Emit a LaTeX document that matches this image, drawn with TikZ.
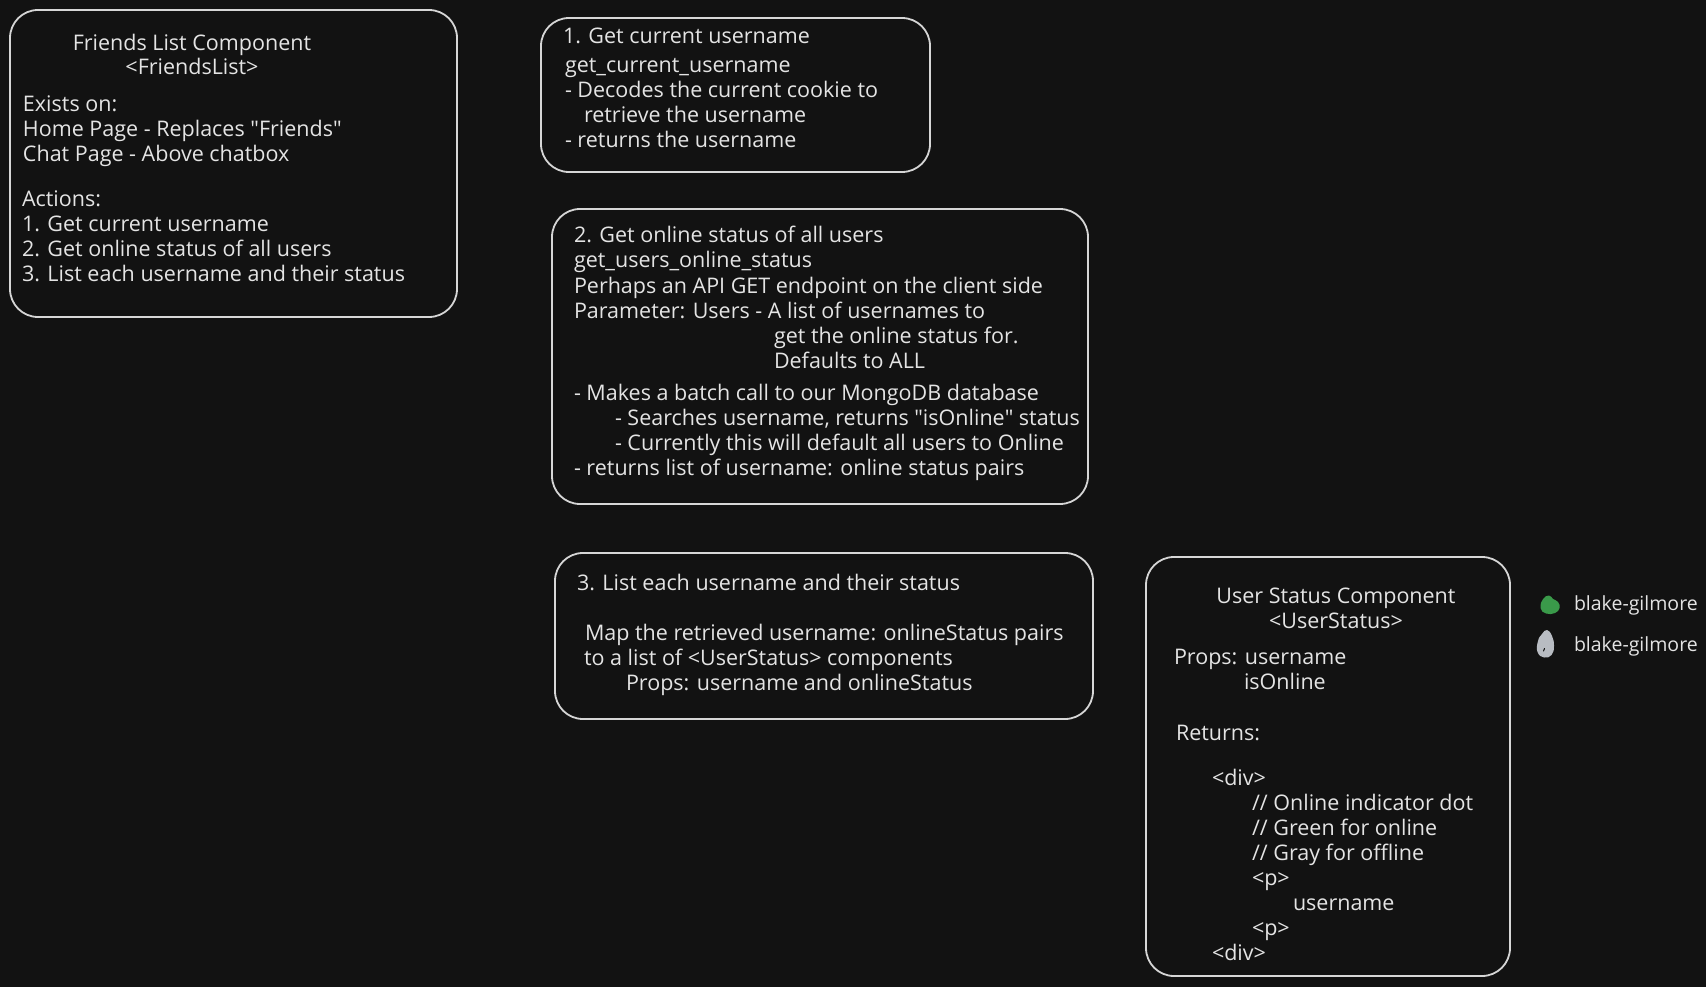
\documentclass[tikz,border=0pt]{standalone}
\usepackage{fontspec}
\setmainfont{Open Sans}
\definecolor{canvas}{HTML}{121212}
\definecolor{ink}{HTML}{E4E4E4}
\definecolor{edge}{HTML}{D6D6D6}
\definecolor{onlinegreen}{HTML}{3A9A4A}
\definecolor{offlinegray}{HTML}{B8BCC2}
\newcommand{\handfont}{\fontsize{21.5}{25}\selectfont}
\newcommand{\legendfont}{\fontsize{19.5}{25}\selectfont}
\newcommand{\sq}{\textquotedbl}
\tikzset{
  card/.style={draw=edge, line width=1.8pt, rounded corners=28pt},
  txt/.style={text=ink, font=\handfont, inner sep=0pt, outer sep=0pt, anchor=base west},
  ctxt/.style={txt, anchor=base},
  legendtxt/.style={txt, font=\legendfont},
}
\begin{document}
\begin{tikzpicture}[x=1pt, y=-1pt]
  \fill[canvas] (0,0) rectangle (1706,987);
  \useasboundingbox (0,0) rectangle (1706,987);

  % outlines of the five cards
  \draw[card] (10,10) rectangle (457,317);
  \draw[card] (541,18) rectangle (930,172);
  \draw[card] (552,209) rectangle (1088,504);
  \draw[card] (555,553) rectangle (1093,719);
  \draw[card] (1146,557) rectangle (1510,976);

  % Friends list component
  \node[ctxt] (flTitle) at (192,51) {Friends List Component};
  \node[ctxt] (flTag) at (192,75) {<FriendsList>};
  \node[txt] (flExists) at (23,112) {Exists on:};
  \node[txt] (flHome) at (23,137) {Home Page - Replaces \sq Friends\sq};
  \node[txt] (flChat) at (23,162) {Chat Page - Above chatbox};
  \node[txt] (flActions) at (22,207) {Actions:};
  \node[txt] (flOne) at (22,232) {1. Get current username};
  \node[txt] (flTwo) at (22,257) {2. Get online status of all users};
  \node[txt] (flThree) at (22,282) {3. List each username and their status};

  % step 1
  \node[txt] (s1Head) at (563,44) {1. Get current username};
  \node[txt] (s1Fn) at (565,73) {get\_current\_username};
  \node[txt] (s1Dec) at (565,98) {- Decodes the current cookie to};
  \node[txt] (s1Ret) at (584,123) {retrieve the username};
  \node[txt] (s1Out) at (565,148) {- returns the username};

  % step 2
  \node[txt] (s2Head) at (574,243) {2. Get online status of all users};
  \node[txt] (s2Fn) at (574,268) {get\_users\_online\_status};
  \node[txt] (s2Api) at (574,293) {Perhaps an API GET endpoint on the client side};
  \node[txt] (s2Param) at (574,318) {Parameter: Users - A list of usernames to};
  \node[txt] (s2For) at (774,343) {get the online status for.};
  \node[txt] (s2All) at (774,368) {Defaults to ALL};
  \node[txt] (s2Call) at (574,400) {- Makes a batch call to our MongoDB database};
  \node[txt] (s2Search) at (615,425) {- Searches username, returns \sq isOnline\sq{} status};
  \node[txt] (s2Default) at (615,450) {- Currently this will default all users to Online};
  \node[txt] (s2Ret) at (574,475) {- returns list of username: online status pairs};

  % step 3
  \node[txt] (s3Head) at (577,590) {3. List each username and their status};
  \node[txt] (s3Map) at (585,640) {Map the retrieved username: onlineStatus pairs};
  \node[txt] (s3List) at (584,665) {to a list of <UserStatus> components};
  \node[txt] (s3Props) at (626,690) {Props: username and onlineStatus};

  % user status component
  \node[ctxt] (usTitle) at (1336,603) {User Status Component};
  \node[ctxt] (usTag) at (1336,628) {<UserStatus>};
  \node[txt] (usProps) at (1174,664) {Props: username};
  \node[txt] (usOnline) at (1244,689) {isOnline};
  \node[txt] (usRet) at (1176,740) {Returns:};
  \node[txt] (usDivA) at (1212,785) {<div>};
  \node[txt] (usDot) at (1252,810) {// Online indicator dot};
  \node[txt] (usGreen) at (1252,835) {// Green for online};
  \node[txt] (usGray) at (1252,860) {// Gray for offline};
  \node[txt] (usPA) at (1252,885) {<p>};
  \node[txt] (usName) at (1293,910) {username};
  \node[txt] (usPB) at (1252,935) {<p>};
  \node[txt] (usDivB) at (1212,960) {<div>};

  % legend: status dots
  \fill[onlinegreen] plot[smooth cycle, tension=0.8] coordinates
    {(1543,599) (1549,595.5) (1553,599) (1558,602) (1559.5,608) (1555,613) (1546,613.5) (1540.5,608)};
  \fill[offlinegray] plot[smooth cycle, tension=0.8] coordinates
    {(1547,630) (1552,636) (1554,646) (1551.5,655) (1544,657.5) (1537.5,652) (1538,641) (1542,634)};
  \draw[canvas, line width=1pt, line cap=round] (1543.5,651) -- (1544.5,648.5);
  \node[legendtxt] (lgOn) at (1574,610) {blake-gilmore};
  \node[legendtxt] (lgOff) at (1574,651) {blake-gilmore};
\end{tikzpicture}
\end{document}
